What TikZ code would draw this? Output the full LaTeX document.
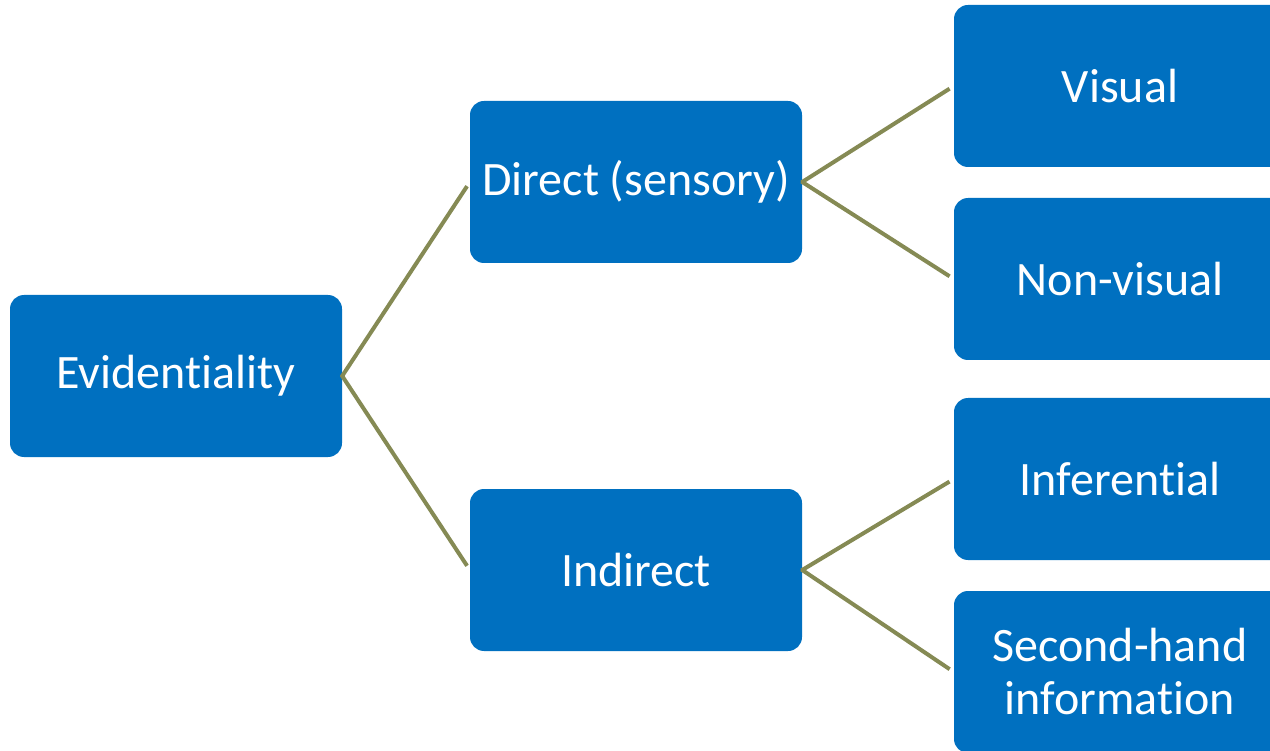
\documentclass[tikz,border=0pt]{standalone}
\usepackage{fontspec}
\setmainfont[Ligatures=NoCommon]{Carlito}
\definecolor{boxblue}{RGB}{0,112,192}
\definecolor{linkolive}{RGB}{133,138,84}

\begin{document}
\begin{tikzpicture}[x=1pt,y=-1pt,
  evbox/.style={rectangle,rounded corners=14pt,fill=boxblue,text=white,
    minimum width=332pt,minimum height=162pt,inner sep=0pt,align=center,
    font=\fontsize{48}{53}\selectfont},
  link/.style={draw=linkolive,line width=4pt,shorten >=5pt,shorten <=-1pt}]
  \useasboundingbox (0,0) rectangle (1270,751);
  \clip (0,0) rectangle (1270,751);

  \node[evbox] (evid) at (176,376) {Evidentiality};

  \node[evbox] (direct) at (636,182) {Direct (sensory)};
  \node[evbox] (indirect) at (636,570) {Indirect};

  \node[evbox] (visual) at (1120,86) {Visual};
  \node[evbox] (nonvisual) at (1120,279) {Non-visual};
  \node[evbox] (infer) at (1120,479) {Inferential};
  \node[evbox] (second) at (1120,672) {Second-hand\\information};

  \draw[link] (evid.east) -- (direct.west);
  \draw[link] (evid.east) -- (indirect.west);
  \draw[link] (direct.east) -- (visual.west);
  \draw[link] (direct.east) -- (nonvisual.west);
  \draw[link] (indirect.east) -- (infer.west);
  \draw[link] (indirect.east) -- (second.west);
\end{tikzpicture}
\end{document}
